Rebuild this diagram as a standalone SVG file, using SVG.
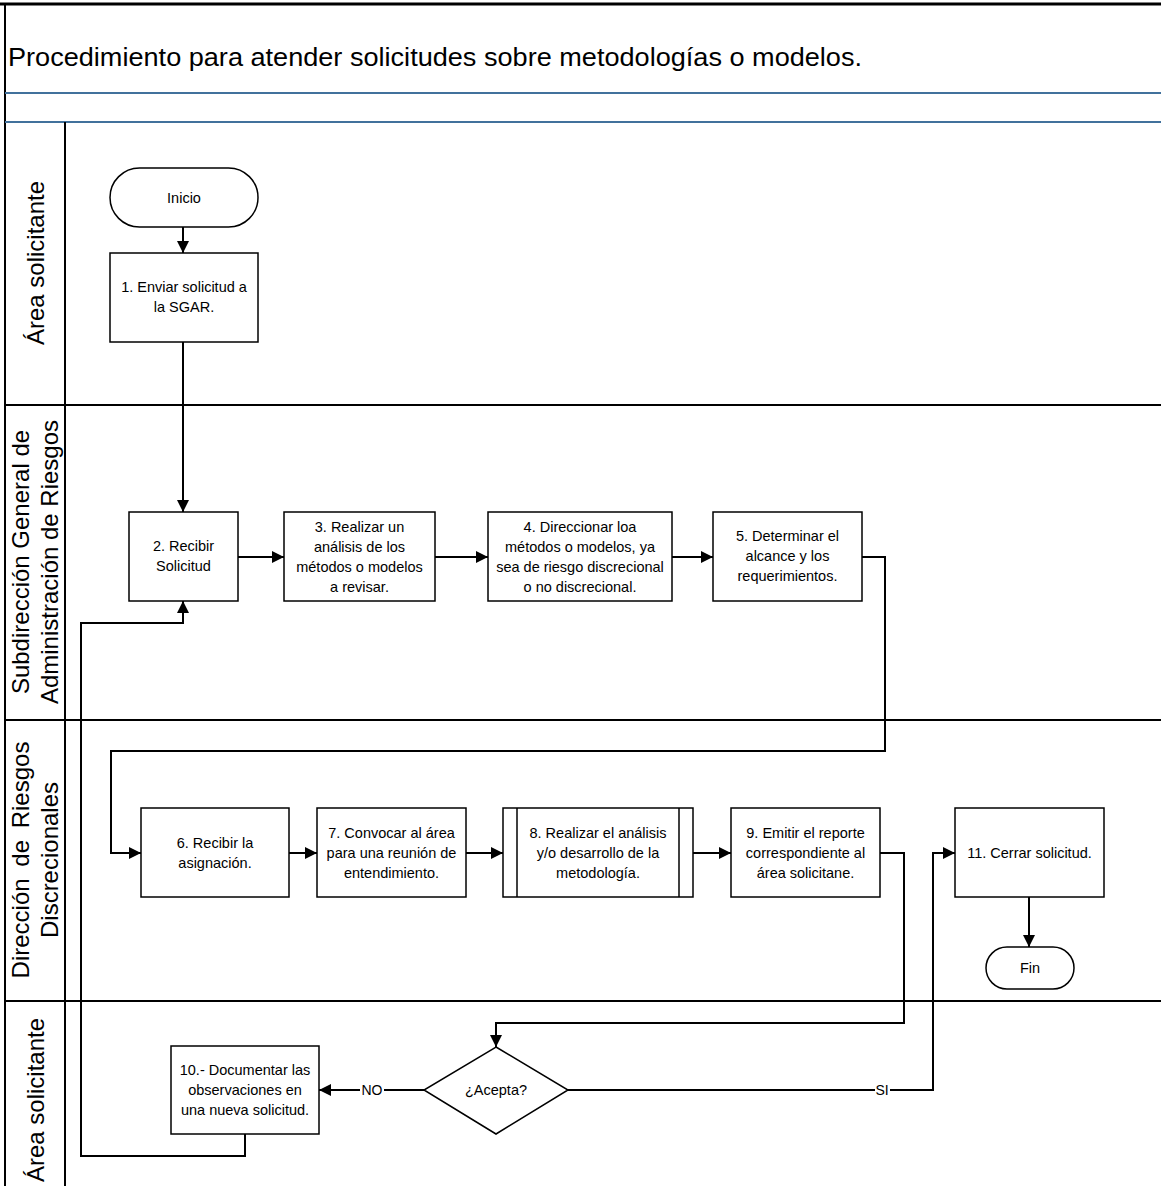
<svg xmlns="http://www.w3.org/2000/svg" width="1161" height="1186" viewBox="0 0 1161 1186">
<defs>
<marker id="arr" markerWidth="12" markerHeight="12" refX="12" refY="6" orient="auto" markerUnits="userSpaceOnUse">
<path d="M0,0 L12,6 L0,12 Z" fill="#000"/>
</marker>
<style>
.frame{stroke:#000;stroke-width:2;fill:none}
.blue{stroke:#41719C;stroke-width:2;fill:none}
.box{fill:#fff;stroke:#000;stroke-width:1.5}
.con{fill:none;stroke:#000;stroke-width:2}
.t{font-family:"Liberation Sans",Arial,sans-serif;font-size:14.5px;fill:#000;text-anchor:middle}
.lane{font-family:"Liberation Sans",Arial,sans-serif;font-size:24px;fill:#000;text-anchor:middle}
.title{font-family:"Liberation Sans",Arial,sans-serif;font-size:25px;fill:#000}
.lbl{font-family:"Liberation Sans",Arial,sans-serif;font-size:14px;fill:#000;text-anchor:middle}
</style>
</defs>
<rect width="1161" height="1186" fill="#fff"/>
<g id="frame">
<line x1="0" y1="4" x2="1161" y2="4" stroke="#000" stroke-width="3"/>
<line class="frame" x1="5" y1="4" x2="5" y2="1186"/>
<line class="blue" x1="5" y1="93" x2="1161" y2="93"/>
<line class="blue" x1="5" y1="122" x2="1161" y2="122"/>
<line class="frame" x1="65" y1="122" x2="65" y2="1186"/>
<line class="frame" x1="5" y1="405" x2="1161" y2="405"/>
<line class="frame" x1="5" y1="720" x2="1161" y2="720"/>
<line class="frame" x1="5" y1="1001" x2="1161" y2="1001"/>
<text class="title" x="8" y="66" textLength="854" lengthAdjust="spacingAndGlyphs">Procedimiento para atender solicitudes sobre metodologías o modelos.</text>
</g>
<g id="lanes">
<text class="lane" transform="translate(44,263) rotate(-90)">Área solicitante</text>
<text class="lane" transform="translate(29,562) rotate(-90)">Subdirección General de</text>
<text class="lane" transform="translate(58,562) rotate(-90)">Administración de Riesgos</text>
<text class="lane" transform="translate(29,860) rotate(-90)" word-spacing="5">Dirección de Riesgos</text>
<text class="lane" transform="translate(58,860) rotate(-90)">Discrecionales</text>
<text class="lane" transform="translate(44,1100) rotate(-90)">Área solicitante</text>
</g>
<g id="connectors">
<path class="con" d="M183,227 L183,253" marker-end="url(#arr)"/>
<path class="con" d="M183,342 L183,512" marker-end="url(#arr)"/>
<path class="con" d="M238,557 L284,557" marker-end="url(#arr)"/>
<path class="con" d="M435,557 L488,557" marker-end="url(#arr)"/>
<path class="con" d="M672,557 L713,557" marker-end="url(#arr)"/>
<path class="con" d="M862,557 L885,557 L885,751 L111,751 L111,853 L141,853" marker-end="url(#arr)"/>
<path class="con" d="M289,853 L317,853" marker-end="url(#arr)"/>
<path class="con" d="M466,853 L503,853" marker-end="url(#arr)"/>
<path class="con" d="M693,853 L731,853" marker-end="url(#arr)"/>
<path class="con" d="M880,853 L904,853 L904,1023 L496,1023 L496,1047" marker-end="url(#arr)"/>
<path class="con" d="M424,1090 L319,1090" marker-end="url(#arr)"/>
<path class="con" d="M568,1090 L933,1090 L933,853 L955,853" marker-end="url(#arr)"/>
<path class="con" d="M1029,897 L1029,947" marker-end="url(#arr)"/>
<path class="con" d="M245,1134 L245,1156 L81,1156 L81,623 L183,623 L183,601" marker-end="url(#arr)"/>
<rect x="360" y="1080" width="24" height="20" fill="#fff"/>
<text class="lbl" x="372" y="1095">NO</text>
<rect x="875" y="1080" width="15" height="20" fill="#fff"/>
<text class="lbl" x="882" y="1095">SI</text>
</g>
<g id="inicio">
<rect class="box" x="110" y="168" width="148" height="59" rx="29.5" ry="29.5"/>
<text class="t" x="184" y="203">Inicio</text>
</g>
<g id="n1">
<rect class="box" x="110" y="253" width="148" height="89"/>
<text class="t" x="184" y="292">1. Enviar solicitud a</text>
<text class="t" x="184" y="312">la SGAR.</text>
</g>
<g id="n2">
<rect class="box" x="129" y="512" width="109" height="89"/>
<text class="t" x="183.5" y="551">2. Recibir</text>
<text class="t" x="183.5" y="571">Solicitud</text>
</g>
<g id="n3">
<rect class="box" x="284" y="512" width="151" height="89"/>
<text class="t" x="359.5" y="532">3. Realizar un</text>
<text class="t" x="359.5" y="552">análisis de los</text>
<text class="t" x="359.5" y="572">métodos o modelos</text>
<text class="t" x="359.5" y="592">a revisar.</text>
</g>
<g id="n4">
<rect class="box" x="488" y="512" width="184" height="89"/>
<text class="t" x="580" y="532">4. Direccionar loa</text>
<text class="t" x="580" y="552">métodos o modelos, ya</text>
<text class="t" x="580" y="572">sea de riesgo discrecional</text>
<text class="t" x="580" y="592">o no discrecional.</text>
</g>
<g id="n5">
<rect class="box" x="713" y="512" width="149" height="89"/>
<text class="t" x="787.5" y="541">5. Determinar el</text>
<text class="t" x="787.5" y="561">alcance y los</text>
<text class="t" x="787.5" y="581">requerimientos.</text>
</g>
<g id="n6">
<rect class="box" x="141" y="808" width="148" height="89"/>
<text class="t" x="215" y="848">6. Recibir la</text>
<text class="t" x="215" y="868">asignación.</text>
</g>
<g id="n7">
<rect class="box" x="317" y="808" width="149" height="89"/>
<text class="t" x="391.5" y="838">7. Convocar al área</text>
<text class="t" x="391.5" y="858">para una reunión de</text>
<text class="t" x="391.5" y="878">entendimiento.</text>
</g>
<g id="n8">
<rect class="box" x="503" y="808" width="190" height="89"/>
<line x1="517" y1="808" x2="517" y2="897" stroke="#000" stroke-width="1.5"/>
<line x1="679" y1="808" x2="679" y2="897" stroke="#000" stroke-width="1.5"/>
<text class="t" x="598" y="838">8. Realizar el análisis</text>
<text class="t" x="598" y="858">y/o desarrollo de la</text>
<text class="t" x="598" y="878">metodología.</text>
</g>
<g id="n9">
<rect class="box" x="731" y="808" width="149" height="89"/>
<text class="t" x="805.5" y="838">9. Emitir el reporte</text>
<text class="t" x="805.5" y="858">correspondiente al</text>
<text class="t" x="805.5" y="878">área solicitane.</text>
</g>
<g id="n11">
<rect class="box" x="955" y="808" width="149" height="89"/>
<text class="t" x="1029.5" y="858">11. Cerrar solicitud.</text>
</g>
<g id="fin">
<rect class="box" x="986" y="947" width="88" height="42" rx="21" ry="21"/>
<text class="t" x="1030" y="973">Fin</text>
</g>
<g id="decision">
<polygon class="box" points="496,1047 568,1090 496,1134 424,1090"/>
<text class="t" x="496" y="1095">¿Acepta?</text>
</g>
<g id="n10">
<rect class="box" x="171" y="1046" width="148" height="88"/>
<text class="t" x="245" y="1075">10.- Documentar las</text>
<text class="t" x="245" y="1095">observaciones en</text>
<text class="t" x="245" y="1115">una nueva solicitud.</text>
</g>
</svg>
